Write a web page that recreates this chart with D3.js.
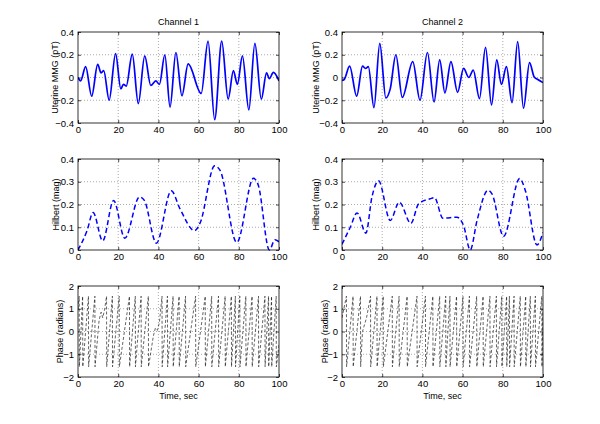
<!DOCTYPE html>
<html><head><meta charset="utf-8">
<script src="https://cdn.jsdelivr.net/npm/d3@7"></script>
<style>body{margin:0;background:#fff}svg{display:block}text{font-family:"Liberation Sans",Arial,sans-serif;fill:#000}</style>
</head><body><svg id="c" width="600" height="424"></svg>
<script>
// ---------- data ----------
const titles = ["Channel 1", "Channel 2"];
const xTicks = [0, 20, 40, 60, 80, 100];
const sigTicks = [-0.4, -0.2, 0, 0.2, 0.4];
const hilTicks = [0, 0.1, 0.2, 0.3, 0.4];
const phTicks = [-2, -1, 0, 1, 2];
const yLabels = ["Uterine MMG (pT)", "Hilbert (mag)", "Phase (radians)"];
const xLabel = "Time, sec";

const ch1Signal = [[0,0],[1.3,-0.03],[3.8,0.095],[6.8,-0.165],[9.8,0.115],[11.5,0.04],[12.8,0.06],[15.5,-0.2],[18.7,0.21],[21.3,-0.1],[22.6,-0.06],[24,-0.075],[27,0.205],[30,-0.23],[33.2,0.19],[36.2,-0.07],[38.7,-0.03],[40.5,-0.06],[43.2,0.2],[45.8,-0.26],[48.7,0.22],[51.7,-0.16],[54.8,0.12],[61.3,-0.14],[64.7,0.32],[68,-0.37],[71.5,0.32],[74.7,-0.19],[77.3,0.06],[79.3,-0.06],[81.8,0.19],[85,-0.285],[88,0.3],[91.2,-0.19],[93.8,0.04],[95.2,-0.01],[97.2,0.045],[100,-0.03]];
const ch2Signal = [[0,-0.025],[1,-0.02],[3.8,0.1],[7.3,-0.165],[10.2,0.1],[11.7,0.08],[13.1,0.095],[15.9,-0.265],[18.8,0.3],[21.8,-0.18],[24,-0.1],[26.8,0.2],[30,-0.175],[35.2,0.14],[38.8,-0.2],[42.5,0.22],[45.8,-0.215],[48.6,0.155],[51.2,-0.135],[54.2,0.14],[57.5,-0.13],[60.5,0.08],[63.1,0.0],[65.3,0.065],[68.4,-0.185],[71.4,0.265],[74.4,-0.24],[77,0.155],[79.3,-0.06],[81.8,0.095],[84.6,-0.22],[87.4,0.315],[90.3,-0.27],[93.3,0.13],[95.6,0.005],[97.2,-0.015],[100,-0.045]];

const ch1Hilbert = [[0,0],[4.5,0.085],[7.5,0.165],[12.3,0.04],[17.7,0.218],[23.3,0.052],[30.6,0.233],[33,0.218],[39,0.03],[46.4,0.26],[50.8,0.18],[58,0.085],[60.8,0.12],[68,0.37],[70.7,0.35],[79,0.033],[87.3,0.315],[89.7,0.285],[95.2,0.0],[98,0.045],[100,0.036]];
const ch2Hilbert = [[0,0.025],[4.1,0.1],[7.5,0.163],[11.9,0.074],[14.9,0.233],[18.2,0.304],[24,0.13],[28.5,0.21],[34.3,0.117],[38.1,0.203],[43.9,0.225],[46,0.23],[50.2,0.14],[57.2,0.144],[60.5,0.107],[63.8,0.0],[67.2,0.13],[72.6,0.262],[74.6,0.247],[80.4,0.06],[88.4,0.314],[91.2,0.262],[97,0.022],[100,0.077]];

// phase wraps (time of +pi/2 -> -pi/2 jump) and extra bends inside ramps
const phaseLimit = 1.55;
const ch1Jumps = [0.6,2.3,5.2,8.4,14.2,17.1,20.5,25.6,28.5,31.4,35.0,41.8,44.5,47.3,50.3,53.5,58.5,63.3,66.5,69.9,73.2,76.3,78.3,80.5,83.5,86.6,89.8,93.0,94.8,96.3,98.6];
const ch1Bends = [[10.5,0.5],[11.5,0.85],[12.3,0.6],[13.2,0.95],[37.5,-0.2],[38.5,0.15],[39.5,0.05],[40.5,0.4]];
const ch1Start = 1.0, ch1End = -0.6;
const ch2Jumps = [2.2,5.5,9.2,14.2,17.4,20.5,25.0,28.4,32.4,37.3,41.5,45.2,48.6,51.6,53.7,57.0,60.2,63.4,67.0,70.2,73.6,76.8,79.5,81.9,83.3,85.6,88.7,91.4,93.7,96.2,99.4];
const ch2Bends = [[10.2,0.0],[12.2,0.6]];
const ch2Start = 0.6, ch2End = 1.0;

// ---------- layout ----------
const svg = d3.select("#c");
const colX = [78, 342], axW = 201;
const rowY = [32, 159, 286], axH = 91;
const labelOffset = [[23.5, 22, 18], [26.5, 26, 17.5]];
const tickFont = "9.5px", labelFont = "9px";

function phasePoints(jumps, bends, start, end) {
  const pts = [[0, start]];
  const all = jumps.map(j => ({t: j, type: "j"})).concat(bends.map(b => ({t: b[0], v: b[1], type: "b"})));
  all.sort((a, b) => a.t - b.t);
  all.forEach(e => {
    if (e.type === "j") { pts.push([e.t, phaseLimit]); pts.push([e.t + 0.08, -phaseLimit]); }
    else pts.push([e.t, e.v]);
  });
  pts.push([100, end]);
  return pts;
}

const decFmt = d => d === 0 ? "0" : d3.format(".1f")(d);
const panels = [
  {row:0, col:0, data: ch1Signal, dom:[-0.4,0.4], ticks: sigTicks, fmt: decFmt, color:"#0000ff", w:1.7, dash:null, curve:d3.curveMonotoneX},
  {row:0, col:1, data: ch2Signal, dom:[-0.4,0.4], ticks: sigTicks, fmt: decFmt, color:"#0000ff", w:1.7, dash:null, curve:d3.curveMonotoneX},
  {row:1, col:0, data: ch1Hilbert, dom:[0,0.4], ticks: hilTicks, fmt: decFmt, color:"#0000ff", w:1.5, dash:"5,3", curve:d3.curveMonotoneX},
  {row:1, col:1, data: ch2Hilbert, dom:[0,0.4], ticks: hilTicks, fmt: decFmt, color:"#0000ff", w:1.5, dash:"5,3", curve:d3.curveMonotoneX},
  {row:2, col:0, data: phasePoints(ch1Jumps, ch1Bends, ch1Start, ch1End), dom:[-2,2], ticks: phTicks, fmt: d3.format("d"), color:"#111", w:0.65, dash:"3,2", curve:d3.curveLinear},
  {row:2, col:1, data: phasePoints(ch2Jumps, ch2Bends, ch2Start, ch2End), dom:[-2,2], ticks: phTicks, fmt: d3.format("d"), color:"#111", w:0.65, dash:"3,2", curve:d3.curveLinear}
];

panels.forEach(p => {
  const x0 = colX[p.col], y0 = rowY[p.row];
  const x = d3.scaleLinear().domain([0,100]).range([x0, x0+axW]);
  const y = d3.scaleLinear().domain(p.dom).range([y0+axH, y0]);
  const g = svg.append("g");
  g.append("rect").attr("x",x0).attr("y",y0).attr("width",axW).attr("height",axH).attr("fill","#fff");
  // grid
  g.selectAll(".gx").data(xTicks.slice(1,-1)).join("line")
    .attr("x1",d=>x(d)).attr("x2",d=>x(d)).attr("y1",y0).attr("y2",y0+axH)
    .attr("stroke","#888").attr("stroke-width",0.7).attr("stroke-dasharray","1,2");
  g.selectAll(".gy").data(p.ticks.slice(1,-1)).join("line")
    .attr("y1",d=>y(d)).attr("y2",d=>y(d)).attr("x1",x0).attr("x2",x0+axW)
    .attr("stroke","#888").attr("stroke-width",0.7).attr("stroke-dasharray","1,2");
  // data
  const clipId = "clip"+p.row+p.col;
  svg.append("clipPath").attr("id",clipId).append("rect").attr("x",x0).attr("y",y0-2).attr("width",axW).attr("height",axH+4);
  g.append("path").datum(p.data)
    .attr("clip-path","url(#"+clipId+")")
    .attr("d", d3.line().x(d=>x(d[0])).y(d=>y(d[1])).curve(p.curve))
    .attr("fill","none").attr("stroke",p.color).attr("stroke-width",p.w)
    .attr("stroke-dasharray",p.dash);
  // axes (ticks inside)
  const tl = 3;
  const ax = g.append("g").attr("transform",`translate(0,${y0+axH})`)
    .call(d3.axisBottom(x).tickValues(xTicks).tickSize(-tl).tickPadding(4).tickFormat(d3.format("d")));
  g.append("g").attr("transform",`translate(${x0},0)`)
    .call(d3.axisLeft(y).tickValues(p.ticks).tickSize(-tl).tickPadding(4).tickFormat(p.fmt));
  g.append("g").attr("transform",`translate(0,${y0})`).call(d3.axisTop(x).tickValues(xTicks).tickSize(-tl).tickFormat(""));
  g.append("g").attr("transform",`translate(${x0+axW},0)`).call(d3.axisRight(y).tickValues(p.ticks).tickSize(-tl).tickFormat(""));
  g.selectAll(".domain").remove();
  g.selectAll(".tick line").attr("stroke","#000").attr("stroke-width",0.7);
  g.selectAll(".tick text").attr("font-size",tickFont).attr("font-family","Liberation Sans, Arial, sans-serif").attr("fill","#000");
  ax.selectAll(".tick text").attr("dy","0.75em").attr("y",3);
  g.append("rect").attr("x",x0).attr("y",y0).attr("width",axW).attr("height",axH)
    .attr("fill","none").attr("stroke","#000").attr("stroke-width",0.8);
  // y label
  const lx = x0 - labelOffset[p.col][p.row];
  g.append("text").attr("transform",`translate(${lx},${y0+axH/2}) rotate(-90)`)
    .attr("text-anchor","middle").attr("dominant-baseline","central")
    .attr("font-size",labelFont).text(yLabels[p.row]);
  if (p.row===0) g.append("text").attr("x",x0+axW/2).attr("y",y0-7).attr("text-anchor","middle")
    .attr("font-size",labelFont).text(titles[p.col]);
  if (p.row===2) g.append("text").attr("x",x0+axW/2).attr("y",y0+axH+21.5).attr("text-anchor","middle")
    .attr("font-size",labelFont).text(xLabel);
});
</script></body></html>
